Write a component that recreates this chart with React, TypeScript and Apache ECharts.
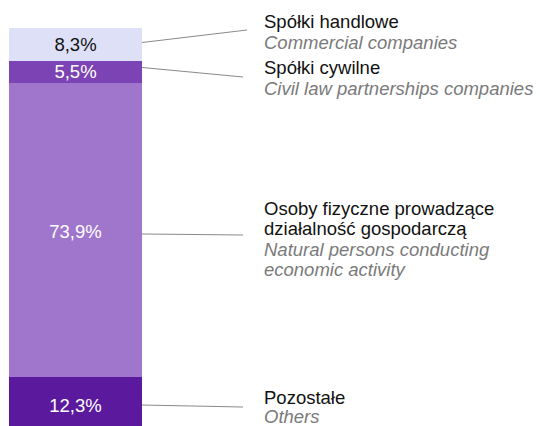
import React, { useEffect, useRef } from "react";
import * as echarts from "echarts";

// Data (stack order: bottom to top)
const categories = ["Pozostałe", "Osoby fizyczne", "Spółki cywilne", "Spółki handlowe"];
const values = [12.3, 73.9, 5.5, 8.3];
const polishNames = [
  ["Pozostałe"],
  ["Osoby fizyczne prowadzące", "działalność gospodarczą"],
  ["Spółki cywilne"],
  ["Spółki handlowe"],
];
const englishNames = [
  ["Others"],
  ["Natural persons conducting", "economic activity"],
  ["Civil law partnerships companies"],
  ["Commercial companies"],
];

// Styles / layout
const barColors = ["#5b1a9d", "#a075cc", "#7b43b3", "#dde0f7"];
const labelColors = ["#ffffff", "#ffffff", "#ffffff", "#111111"];
const labelOffsets: [number, number][] = [[0, 4], [0, 2], [0, 0], [0, 0]];
const FONT = '"Liberation Sans", Arial, Helvetica, sans-serif';
const FS = 18.5;
const TEXT_LH = 19;
const GRID = { left: 9, top: 28, width: 133, height: 400 };
const leaderStartOffset = [3.5, 4, -4.5, -2];
const leaderEnd: [number, number][] = [
  [243, 407],
  [243, 235],
  [243, 77],
  [247, 30],
];
const textX = 264;
const textFirstY = [397.5, 208, 67, 21];
const LINE_H = [19, 20.5, 21.5, 21.5];

export default function App() {
  const ref = useRef<HTMLDivElement>(null);
  useEffect(() => {
    if (!ref.current) return;
    const chart = echarts.init(ref.current, undefined, { renderer: "svg" });
    const fmt = (v: number) => v.toFixed(1).replace(".", ",") + "%";
    chart.setOption({
      animation: false,
      grid: { ...GRID, containLabel: false },
      xAxis: { type: "category", data: ["total"], show: false },
      yAxis: { type: "value", min: 0, max: 100, show: false },
      series: values.map((v, i) => ({
        name: categories[i],
        type: "bar",
        stack: "total",
        barWidth: "100%",
        data: [v],
        itemStyle: { color: barColors[i] },
        label: {
          show: true,
          position: "inside",
          offset: labelOffsets[i],
          formatter: () => fmt(v),
          color: labelColors[i],
          fontSize: FS,
          fontFamily: FONT,
        },
      })),
    });

    const rightX = GRID.left + GRID.width;
    const elements: any[] = [];
    let cum = 0;
    values.forEach((v, i) => {
      const mid = cum + v / 2;
      cum += v;
      const p = chart.convertToPixel({ gridIndex: 0 }, [0, mid]) as number[];
      const y0 = p[1] + leaderStartOffset[i];
      elements.push({
        type: "line",
        shape: { x1: rightX, y1: y0, x2: leaderEnd[i][0], y2: leaderEnd[i][1] },
        style: { stroke: "#8a8a8a", lineWidth: 1 },
      });
      let y = textFirstY[i];
      polishNames[i].forEach((t) => {
        elements.push({
          type: "text",
          x: textX,
          y,
          style: {
            text: t,
            fill: "#111111",
            fontSize: FS,
            lineHeight: TEXT_LH,
            fontFamily: FONT,
            verticalAlign: "middle",
          },
        });
        y += LINE_H[i];
      });
      englishNames[i].forEach((t) => {
        elements.push({
          type: "text",
          x: textX,
          y,
          style: {
            text: t,
            fill: "#7a7a7a",
            fontSize: FS,
            lineHeight: TEXT_LH,
            fontStyle: "italic",
            fontFamily: FONT,
            verticalAlign: "middle",
          },
        });
        y += LINE_H[i];
      });
    });
    chart.setOption({ graphic: { elements } });
    return () => chart.dispose();
  }, []);
  return (
    <div
      ref={ref}
      style={{ position: "fixed", left: 0, top: 0, width: 540, height: 426, background: "#fff" }}
    />
  );
}
